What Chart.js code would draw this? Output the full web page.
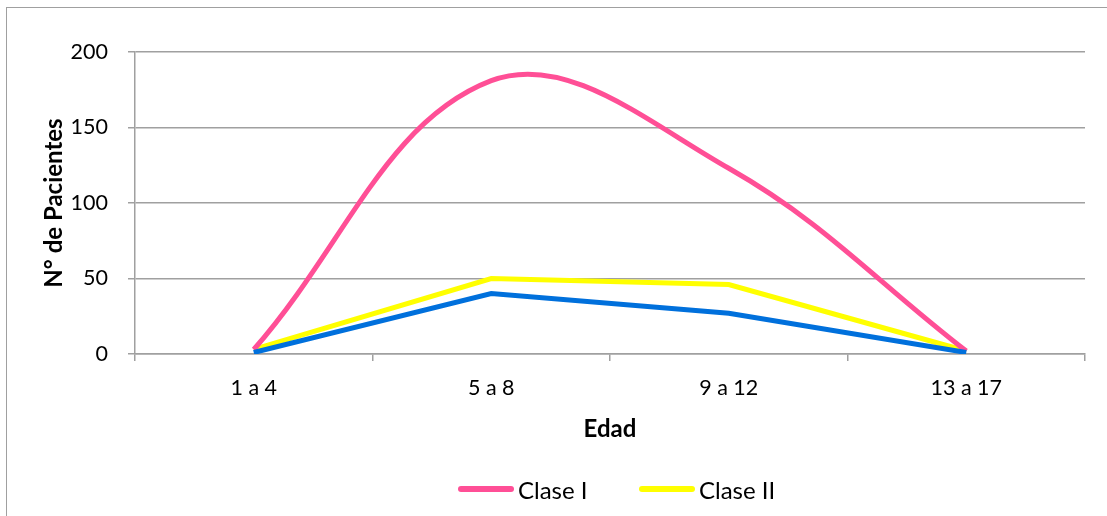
<!DOCTYPE html>
<html>
<head>
<meta charset="utf-8">
<script src="https://cdn.jsdelivr.net/npm/chart.js@4.4.1/dist/chart.umd.min.js"></script>
<style>
  html, body { margin: 0; padding: 0; background: #fff; }
  #wrap { position: relative; width: 1107px; height: 516px; overflow: hidden; }
  #frame { position: absolute; left: 6px; top: 7px; width: 1120px; height: 540px;
           border: 1.5px solid #a0a0a0; box-sizing: border-box; }
  canvas { position: absolute; left: 0; top: 0; }
  #legend { position: absolute; left: 0; top: 474px; width: 1107px; height: 30px; }
  .item { position: absolute; top: 0; height: 30px; display: flex; align-items: center;
          font-family: Lato, "Liberation Sans", sans-serif; font-size: 24px; color: #000; }
  .swatch { width: 56px; height: 6px; border-radius: 3px; margin-right: 4px; }
</style>
</head>
<body>
<div id="wrap">
  <div id="frame"></div>
  <canvas id="c" width="1107" height="516"></canvas>
  <div id="legend"></div>
</div>
<script>
// Age groups and patient counts per class
const categories = ['1 a 4', '5 a 8', '9 a 12', '13 a 17'];
const claseI = [3, 181, 123, 2];
const claseII = [3, 50, 46, 2];
const claseIII = [1, 40, 27, 1];
const yTicks = [0, 50, 100, 150, 200];

const FONT = 'Lato, "Liberation Sans", sans-serif';
const GRID = '#a0a0a0';

const chart = new Chart(document.getElementById('c'), {
  type: 'line',
  data: {
    labels: categories,
    datasets: [
      { label: 'Clase I', data: claseI, borderColor: '#ff4f96', backgroundColor: '#ff4f96',
        borderWidth: 5, tension: 0.38, pointRadius: 0, order: 1 },
      { label: 'Clase II', data: claseII, borderColor: '#ffff00', backgroundColor: '#ffff00',
        borderWidth: 5, tension: 0, pointRadius: 0, order: 2 },
      { label: 'Clase III', data: claseIII, borderColor: '#0070dc', backgroundColor: '#0070dc',
        borderWidth: 5, tension: 0, pointRadius: 0, order: 0 }
    ]
  },
  options: {
    responsive: false,
    animation: false,
    layout: { padding: { left: 40, top: 52, right: 22, bottom: 72 } },
    plugins: { tooltip: { enabled: false }, legend: { display: false } },
    scales: {
      x: {
        offset: true,
        grid: { offset: true, drawOnChartArea: false, color: GRID, lineWidth: 1.5, tickLength: 7 },
        border: { color: GRID, width: 1.5 },
        ticks: { color: '#000', font: { family: FONT, size: 21.5 }, padding: 14, maxRotation: 0 },
        title: { display: true, text: 'Edad', color: '#000',
                 font: { family: FONT, size: 24, weight: 'bold' }, padding: { top: 0, bottom: 0 } },
        afterFit: (s) => { s.height = 90; }
      },
      y: {
        min: 0, max: 200,
        afterBuildTicks: (s) => { s.ticks = yTicks.map(v => ({ value: v })); },
        grid: { color: GRID, lineWidth: 1.5, tickLength: 7 },
        border: { color: GRID, width: 1.5 },
        ticks: { color: '#000', font: { family: FONT, size: 21.5 }, padding: 20 },
        title: { display: true, text: 'N° de Pacientes', color: '#000',
                 font: { family: FONT, size: 24, weight: 'bold' }, padding: { top: 0, bottom: 0 } },
        afterFit: (s) => { s.width = 95; }
      }
    }
  }
});

// Legend for the first two series, built from the dataset labels and colours
const legendLeft = [458, 639];
const legend = document.getElementById('legend');
chart.data.datasets.slice(0, 2).forEach((ds, i) => {
  const item = document.createElement('div');
  item.className = 'item';
  item.style.left = legendLeft[i] + 'px';
  const sw = document.createElement('span');
  sw.className = 'swatch';
  sw.style.background = ds.borderColor;
  const txt = document.createElement('span');
  txt.textContent = ds.label;
  item.appendChild(sw);
  item.appendChild(txt);
  legend.appendChild(item);
});
</script>
</body>
</html>
